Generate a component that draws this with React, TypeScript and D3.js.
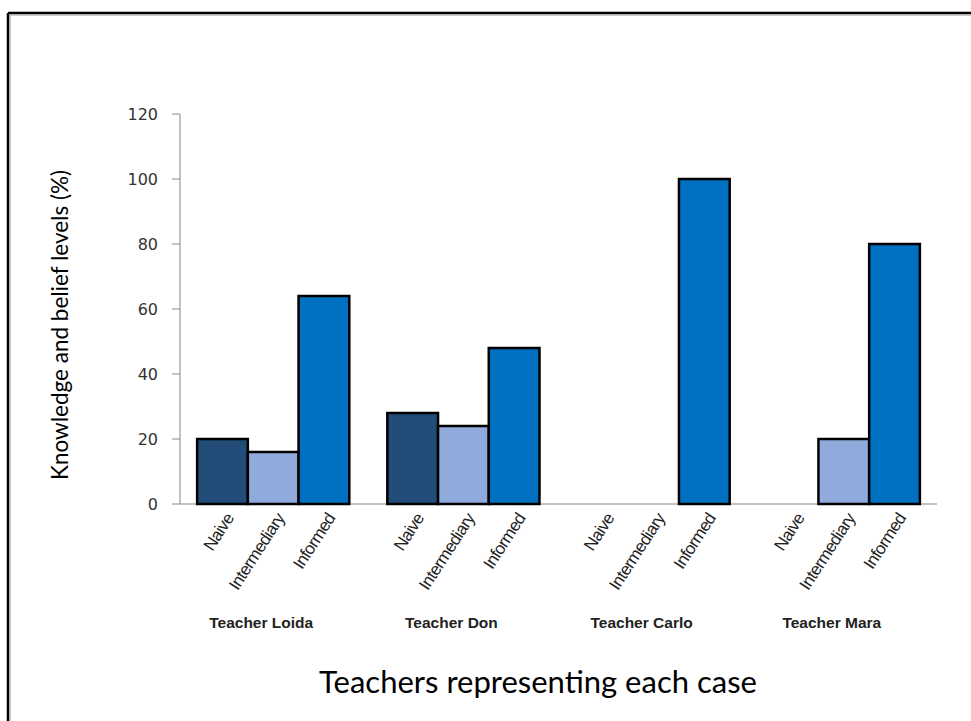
import React from "react";
import * as d3 from "d3";

const teachers = ["Teacher Loida", "Teacher Don", "Teacher Carlo", "Teacher Mara"];
const levels = ["Naive", "Intermediary", "Informed"];
const naive = [20, 28, 0, 0];
const intermediary = [16, 24, 0, 20];
const informed = [64, 48, 100, 80];
const yTicks = [0, 20, 40, 60, 80, 100, 120];
const colors = ["#224D78", "#8FAADB", "#0070C0"];

const W = 971;
const H = 721;

export default function App() {
  const series = [naive, intermediary, informed];
  const y = d3.scaleLinear().domain([0, 120]).range([504, 114]);
  const x0 = d3.scaleBand().domain(teachers).range([180, 937]).paddingInner(0.2).paddingOuter(0.09);
  const x1 = d3.scaleBand().domain(levels).range([0, x0.bandwidth()]);

  return (
    <svg width={W} height={H} style={{ position: "absolute", left: 0, top: 0, background: "#fff" }}>
      <rect x={0} y={0} width={W} height={H} fill="#fff" />
      {/* frame */}
      <line x1={8} y1={13} x2={W} y2={13} stroke="#000" strokeWidth={2.5} />
      <line x1={8} y1={13} x2={8} y2={H} stroke="#000" strokeWidth={2.5} />
      <line x1={9.5} y1={15} x2={W} y2={15} stroke="#999" strokeWidth={1} />
      <line x1={10} y1={15} x2={10} y2={H} stroke="#999" strokeWidth={1} />

      {/* y axis */}
      <line x1={180} y1={y(120)} x2={180} y2={y(0)} stroke="#888" strokeWidth={1} />
      {yTicks.map((t) => (
        <g key={t}>
          <line x1={172} x2={180} y1={y(t)} y2={y(t)} stroke="#888" strokeWidth={1} />
          <text
            x={158}
            y={y(t)}
            dy="0.35em"
            textAnchor="end"
            fontFamily="DejaVu Sans, Verdana, sans-serif"
            fontSize={16}
            fill="#333"
          >
            {t}
          </text>
        </g>
      ))}
      {/* x baseline */}
      <line x1={180} x2={937} y1={y(0)} y2={y(0)} stroke="#888" strokeWidth={1} />

      {/* bars */}
      {teachers.map((tName, gi) => (
        <g key={tName} transform={`translate(${x0(tName)},0)`}>
          {levels.map((lv, li) => {
            const v = series[li][gi];
            if (v <= 0) return null;
            return (
              <rect
                key={lv}
                x={x1(lv)}
                y={y(v)}
                width={x1.bandwidth()}
                height={y(0) - y(v)}
                fill={colors[li]}
                stroke="#000"
                strokeWidth={2.5}
              />
            );
          })}
          {levels.map((lv) => (
            <text
              key={lv + "l"}
              transform={`translate(${(x1(lv) as number) + x1.bandwidth() / 2 + 12},${518}) rotate(-57)`}
              textAnchor="end"
              fontFamily="Liberation Sans Narrow, Liberation Sans, Arial, sans-serif"
              fontStretch="condensed"
              fontSize={17}
              letterSpacing={-0.6}
              fill="#222"
            >
              {lv}
            </text>
          ))}
          <text
            x={x0.bandwidth() / 2 - 12}
            y={628}
            textAnchor="middle"
            fontFamily="Liberation Sans, Arial, sans-serif"
            fontWeight="bold"
            fontSize={15.5}
            fill="#222"
          >
            {tName}
          </text>
        </g>
      ))}

      {/* axis titles */}
      <text
        transform={`translate(68,325) rotate(-90)`}
        textAnchor="middle"
        fontFamily="Lato, Open Sans, sans-serif"
        fontSize={22.5}
        fill="#000"
      >
        Knowledge and belief levels (%)
      </text>
      <text
        x={538}
        y={693}
        textAnchor="middle"
        fontFamily="Lato, Open Sans, sans-serif"
        fontSize={31}
        fill="#000"
      >
        Teachers representing each case
      </text>
    </svg>
  );
}
